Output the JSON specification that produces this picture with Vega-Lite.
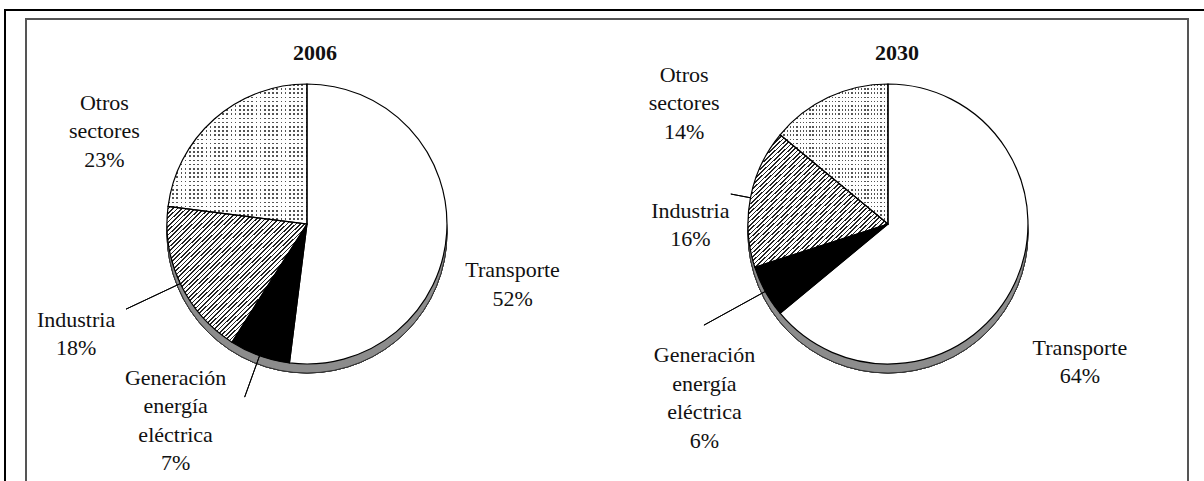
{
 "$schema": "https://vega.github.io/schema/vega-lite/v6.json",
 "width": 1162,
 "height": 465,
 "autosize": {"type": "none"},
 "padding": {"left": 26, "top": 19, "right": 16, "bottom": -3},
 "background": "white",
 "config": {"view": {"stroke": "#555", "strokeWidth": 2}, "text": {"font": "Liberation Serif", "color": "#111"}},
 "params": [
  {"name": "hatch", "value": {"gradient": "linear", "x1": 0, "y1": 0, "x2": 1, "y2": 1, "stops": [
{"offset":0,"color":"#fff"},{"offset":0.01,"color":"#fff"},{"offset":0.01,"color":"#222"},{"offset":0.016,"color":"#222"},
{"offset":0.016,"color":"#fff"},{"offset":0.026,"color":"#fff"},{"offset":0.026,"color":"#222"},{"offset":0.032,"color":"#222"},
{"offset":0.032,"color":"#fff"},{"offset":0.042,"color":"#fff"},{"offset":0.042,"color":"#222"},{"offset":0.048,"color":"#222"},
{"offset":0.048,"color":"#fff"},{"offset":0.058,"color":"#fff"},{"offset":0.058,"color":"#222"},{"offset":0.064,"color":"#222"},
{"offset":0.064,"color":"#fff"},{"offset":0.074,"color":"#fff"},{"offset":0.074,"color":"#222"},{"offset":0.08,"color":"#222"},
{"offset":0.08,"color":"#fff"},{"offset":0.09,"color":"#fff"},{"offset":0.09,"color":"#222"},{"offset":0.096,"color":"#222"},
{"offset":0.096,"color":"#fff"},{"offset":0.106,"color":"#fff"},{"offset":0.106,"color":"#222"},{"offset":0.112,"color":"#222"},
{"offset":0.112,"color":"#fff"},{"offset":0.122,"color":"#fff"},{"offset":0.122,"color":"#222"},{"offset":0.128,"color":"#222"},
{"offset":0.128,"color":"#fff"},{"offset":0.138,"color":"#fff"},{"offset":0.138,"color":"#222"},{"offset":0.144,"color":"#222"},
{"offset":0.144,"color":"#fff"},{"offset":0.154,"color":"#fff"},{"offset":0.154,"color":"#222"},{"offset":0.16,"color":"#222"},
{"offset":0.16,"color":"#fff"},{"offset":0.17,"color":"#fff"},{"offset":0.17,"color":"#222"},{"offset":0.176,"color":"#222"},
{"offset":0.176,"color":"#fff"},{"offset":0.186,"color":"#fff"},{"offset":0.186,"color":"#222"},{"offset":0.192,"color":"#222"},
{"offset":0.192,"color":"#fff"},{"offset":0.202,"color":"#fff"},{"offset":0.202,"color":"#222"},{"offset":0.208,"color":"#222"},
{"offset":0.208,"color":"#fff"},{"offset":0.218,"color":"#fff"},{"offset":0.218,"color":"#222"},{"offset":0.224,"color":"#222"},
{"offset":0.224,"color":"#fff"},{"offset":0.234,"color":"#fff"},{"offset":0.234,"color":"#222"},{"offset":0.24,"color":"#222"},
{"offset":0.24,"color":"#fff"},{"offset":0.25,"color":"#fff"},{"offset":0.25,"color":"#222"},{"offset":0.256,"color":"#222"},
{"offset":0.256,"color":"#fff"},{"offset":0.266,"color":"#fff"},{"offset":0.266,"color":"#222"},{"offset":0.272,"color":"#222"},
{"offset":0.272,"color":"#fff"},{"offset":0.282,"color":"#fff"},{"offset":0.282,"color":"#222"},{"offset":0.288,"color":"#222"},
{"offset":0.288,"color":"#fff"},{"offset":0.298,"color":"#fff"},{"offset":0.298,"color":"#222"},{"offset":0.304,"color":"#222"},
{"offset":0.304,"color":"#fff"},{"offset":0.314,"color":"#fff"},{"offset":0.314,"color":"#222"},{"offset":0.32,"color":"#222"},
{"offset":0.32,"color":"#fff"},{"offset":0.33,"color":"#fff"},{"offset":0.33,"color":"#222"},{"offset":0.336,"color":"#222"},
{"offset":0.336,"color":"#fff"},{"offset":0.346,"color":"#fff"},{"offset":0.346,"color":"#222"},{"offset":0.352,"color":"#222"},
{"offset":0.352,"color":"#fff"},{"offset":0.362,"color":"#fff"},{"offset":0.362,"color":"#222"},{"offset":0.368,"color":"#222"},
{"offset":0.368,"color":"#fff"},{"offset":0.378,"color":"#fff"},{"offset":0.378,"color":"#222"},{"offset":0.384,"color":"#222"},
{"offset":0.384,"color":"#fff"},{"offset":0.394,"color":"#fff"},{"offset":0.394,"color":"#222"},{"offset":0.4,"color":"#222"},
{"offset":0.4,"color":"#fff"},{"offset":0.41,"color":"#fff"},{"offset":0.41,"color":"#222"},{"offset":0.416,"color":"#222"},
{"offset":0.416,"color":"#fff"},{"offset":0.426,"color":"#fff"},{"offset":0.426,"color":"#222"},{"offset":0.432,"color":"#222"},
{"offset":0.432,"color":"#fff"},{"offset":0.442,"color":"#fff"},{"offset":0.442,"color":"#222"},{"offset":0.448,"color":"#222"},
{"offset":0.448,"color":"#fff"},{"offset":0.458,"color":"#fff"},{"offset":0.458,"color":"#222"},{"offset":0.464,"color":"#222"},
{"offset":0.464,"color":"#fff"},{"offset":0.474,"color":"#fff"},{"offset":0.474,"color":"#222"},{"offset":0.48,"color":"#222"},
{"offset":0.48,"color":"#fff"},{"offset":0.49,"color":"#fff"},{"offset":0.49,"color":"#222"},{"offset":0.496,"color":"#222"},
{"offset":0.496,"color":"#fff"},{"offset":0.506,"color":"#fff"},{"offset":0.506,"color":"#222"},{"offset":0.512,"color":"#222"},
{"offset":0.512,"color":"#fff"},{"offset":0.522,"color":"#fff"},{"offset":0.522,"color":"#222"},{"offset":0.528,"color":"#222"},
{"offset":0.528,"color":"#fff"},{"offset":0.538,"color":"#fff"},{"offset":0.538,"color":"#222"},{"offset":0.544,"color":"#222"},
{"offset":0.544,"color":"#fff"},{"offset":0.554,"color":"#fff"},{"offset":0.554,"color":"#222"},{"offset":0.56,"color":"#222"},
{"offset":0.56,"color":"#fff"},{"offset":0.57,"color":"#fff"},{"offset":0.57,"color":"#222"},{"offset":0.576,"color":"#222"},
{"offset":0.576,"color":"#fff"},{"offset":0.586,"color":"#fff"},{"offset":0.586,"color":"#222"},{"offset":0.592,"color":"#222"},
{"offset":0.592,"color":"#fff"},{"offset":0.602,"color":"#fff"},{"offset":0.602,"color":"#222"},{"offset":0.608,"color":"#222"},
{"offset":0.608,"color":"#fff"},{"offset":0.618,"color":"#fff"},{"offset":0.618,"color":"#222"},{"offset":0.624,"color":"#222"},
{"offset":0.624,"color":"#fff"},{"offset":0.634,"color":"#fff"},{"offset":0.634,"color":"#222"},{"offset":0.64,"color":"#222"},
{"offset":0.64,"color":"#fff"},{"offset":0.65,"color":"#fff"},{"offset":0.65,"color":"#222"},{"offset":0.656,"color":"#222"},
{"offset":0.656,"color":"#fff"},{"offset":0.666,"color":"#fff"},{"offset":0.666,"color":"#222"},{"offset":0.672,"color":"#222"},
{"offset":0.672,"color":"#fff"},{"offset":0.682,"color":"#fff"},{"offset":0.682,"color":"#222"},{"offset":0.688,"color":"#222"},
{"offset":0.688,"color":"#fff"},{"offset":0.698,"color":"#fff"},{"offset":0.698,"color":"#222"},{"offset":0.704,"color":"#222"},
{"offset":0.704,"color":"#fff"},{"offset":0.714,"color":"#fff"},{"offset":0.714,"color":"#222"},{"offset":0.72,"color":"#222"},
{"offset":0.72,"color":"#fff"},{"offset":0.73,"color":"#fff"},{"offset":0.73,"color":"#222"},{"offset":0.736,"color":"#222"},
{"offset":0.736,"color":"#fff"},{"offset":0.746,"color":"#fff"},{"offset":0.746,"color":"#222"},{"offset":0.752,"color":"#222"},
{"offset":0.752,"color":"#fff"},{"offset":0.762,"color":"#fff"},{"offset":0.762,"color":"#222"},{"offset":0.768,"color":"#222"},
{"offset":0.768,"color":"#fff"},{"offset":0.778,"color":"#fff"},{"offset":0.778,"color":"#222"},{"offset":0.784,"color":"#222"},
{"offset":0.784,"color":"#fff"},{"offset":0.794,"color":"#fff"},{"offset":0.794,"color":"#222"},{"offset":0.8,"color":"#222"},
{"offset":0.8,"color":"#fff"},{"offset":0.81,"color":"#fff"},{"offset":0.81,"color":"#222"},{"offset":0.816,"color":"#222"},
{"offset":0.816,"color":"#fff"},{"offset":0.826,"color":"#fff"},{"offset":0.826,"color":"#222"},{"offset":0.832,"color":"#222"},
{"offset":0.832,"color":"#fff"},{"offset":0.842,"color":"#fff"},{"offset":0.842,"color":"#222"},{"offset":0.848,"color":"#222"},
{"offset":0.848,"color":"#fff"},{"offset":0.858,"color":"#fff"},{"offset":0.858,"color":"#222"},{"offset":0.864,"color":"#222"},
{"offset":0.864,"color":"#fff"},{"offset":0.874,"color":"#fff"},{"offset":0.874,"color":"#222"},{"offset":0.88,"color":"#222"},
{"offset":0.88,"color":"#fff"},{"offset":0.89,"color":"#fff"},{"offset":0.89,"color":"#222"},{"offset":0.896,"color":"#222"},
{"offset":0.896,"color":"#fff"},{"offset":0.906,"color":"#fff"},{"offset":0.906,"color":"#222"},{"offset":0.912,"color":"#222"},
{"offset":0.912,"color":"#fff"},{"offset":0.922,"color":"#fff"},{"offset":0.922,"color":"#222"},{"offset":0.928,"color":"#222"},
{"offset":0.928,"color":"#fff"},{"offset":0.938,"color":"#fff"},{"offset":0.938,"color":"#222"},{"offset":0.944,"color":"#222"},
{"offset":0.944,"color":"#fff"},{"offset":0.954,"color":"#fff"},{"offset":0.954,"color":"#222"},{"offset":0.96,"color":"#222"},
{"offset":0.96,"color":"#fff"},{"offset":0.97,"color":"#fff"},{"offset":0.97,"color":"#222"},{"offset":0.976,"color":"#222"},
{"offset":0.976,"color":"#fff"},{"offset":0.986,"color":"#fff"},{"offset":0.986,"color":"#222"},{"offset":0.992,"color":"#222"},
{"offset":0.992,"color":"#fff"},{"offset":1,"color":"#fff"}
  ]}},
  {"name": "vstripe", "value": {"gradient": "linear", "x1": 0, "y1": 0, "x2": 1, "y2": 0, "stops": [
{"offset":0,"color":"#555"},{"offset":0.012,"color":"#555"},{"offset":0.012,"color":"#fff"},{"offset":0.03,"color":"#fff"},
{"offset":0.03,"color":"#555"},{"offset":0.042,"color":"#555"},{"offset":0.042,"color":"#fff"},{"offset":0.06,"color":"#fff"},
{"offset":0.06,"color":"#555"},{"offset":0.072,"color":"#555"},{"offset":0.072,"color":"#fff"},{"offset":0.09,"color":"#fff"},
{"offset":0.09,"color":"#555"},{"offset":0.102,"color":"#555"},{"offset":0.102,"color":"#fff"},{"offset":0.12,"color":"#fff"},
{"offset":0.12,"color":"#555"},{"offset":0.132,"color":"#555"},{"offset":0.132,"color":"#fff"},{"offset":0.15,"color":"#fff"},
{"offset":0.15,"color":"#555"},{"offset":0.162,"color":"#555"},{"offset":0.162,"color":"#fff"},{"offset":0.18,"color":"#fff"},
{"offset":0.18,"color":"#555"},{"offset":0.192,"color":"#555"},{"offset":0.192,"color":"#fff"},{"offset":0.21,"color":"#fff"},
{"offset":0.21,"color":"#555"},{"offset":0.222,"color":"#555"},{"offset":0.222,"color":"#fff"},{"offset":0.24,"color":"#fff"},
{"offset":0.24,"color":"#555"},{"offset":0.252,"color":"#555"},{"offset":0.252,"color":"#fff"},{"offset":0.27,"color":"#fff"},
{"offset":0.27,"color":"#555"},{"offset":0.282,"color":"#555"},{"offset":0.282,"color":"#fff"},{"offset":0.3,"color":"#fff"},
{"offset":0.3,"color":"#555"},{"offset":0.312,"color":"#555"},{"offset":0.312,"color":"#fff"},{"offset":0.33,"color":"#fff"},
{"offset":0.33,"color":"#555"},{"offset":0.342,"color":"#555"},{"offset":0.342,"color":"#fff"},{"offset":0.36,"color":"#fff"},
{"offset":0.36,"color":"#555"},{"offset":0.372,"color":"#555"},{"offset":0.372,"color":"#fff"},{"offset":0.39,"color":"#fff"},
{"offset":0.39,"color":"#555"},{"offset":0.402,"color":"#555"},{"offset":0.402,"color":"#fff"},{"offset":0.42,"color":"#fff"},
{"offset":0.42,"color":"#555"},{"offset":0.432,"color":"#555"},{"offset":0.432,"color":"#fff"},{"offset":0.45,"color":"#fff"},
{"offset":0.45,"color":"#555"},{"offset":0.462,"color":"#555"},{"offset":0.462,"color":"#fff"},{"offset":0.48,"color":"#fff"},
{"offset":0.48,"color":"#555"},{"offset":0.492,"color":"#555"},{"offset":0.492,"color":"#fff"},{"offset":0.51,"color":"#fff"},
{"offset":0.51,"color":"#555"},{"offset":0.522,"color":"#555"},{"offset":0.522,"color":"#fff"},{"offset":0.54,"color":"#fff"},
{"offset":0.54,"color":"#555"},{"offset":0.552,"color":"#555"},{"offset":0.552,"color":"#fff"},{"offset":0.57,"color":"#fff"},
{"offset":0.57,"color":"#555"},{"offset":0.582,"color":"#555"},{"offset":0.582,"color":"#fff"},{"offset":0.6,"color":"#fff"},
{"offset":0.6,"color":"#555"},{"offset":0.612,"color":"#555"},{"offset":0.612,"color":"#fff"},{"offset":0.63,"color":"#fff"},
{"offset":0.63,"color":"#555"},{"offset":0.642,"color":"#555"},{"offset":0.642,"color":"#fff"},{"offset":0.66,"color":"#fff"},
{"offset":0.66,"color":"#555"},{"offset":0.672,"color":"#555"},{"offset":0.672,"color":"#fff"},{"offset":0.69,"color":"#fff"},
{"offset":0.69,"color":"#555"},{"offset":0.702,"color":"#555"},{"offset":0.702,"color":"#fff"},{"offset":0.72,"color":"#fff"},
{"offset":0.72,"color":"#555"},{"offset":0.732,"color":"#555"},{"offset":0.732,"color":"#fff"},{"offset":0.75,"color":"#fff"},
{"offset":0.75,"color":"#555"},{"offset":0.762,"color":"#555"},{"offset":0.762,"color":"#fff"},{"offset":0.78,"color":"#fff"},
{"offset":0.78,"color":"#555"},{"offset":0.792,"color":"#555"},{"offset":0.792,"color":"#fff"},{"offset":0.81,"color":"#fff"},
{"offset":0.81,"color":"#555"},{"offset":0.822,"color":"#555"},{"offset":0.822,"color":"#fff"},{"offset":0.84,"color":"#fff"},
{"offset":0.84,"color":"#555"},{"offset":0.852,"color":"#555"},{"offset":0.852,"color":"#fff"},{"offset":0.87,"color":"#fff"},
{"offset":0.87,"color":"#555"},{"offset":0.882,"color":"#555"},{"offset":0.882,"color":"#fff"},{"offset":0.9,"color":"#fff"},
{"offset":0.9,"color":"#555"},{"offset":0.912,"color":"#555"},{"offset":0.912,"color":"#fff"},{"offset":0.93,"color":"#fff"},
{"offset":0.93,"color":"#555"},{"offset":0.942,"color":"#555"},{"offset":0.942,"color":"#fff"},{"offset":0.96,"color":"#fff"},
{"offset":0.96,"color":"#555"},{"offset":0.972,"color":"#555"},{"offset":0.972,"color":"#fff"},{"offset":0.99,"color":"#fff"},
{"offset":0.99,"color":"#555"},{"offset":1,"color":"#555"}
  ]}},
  {"name": "hstripe", "value": {"gradient": "linear", "x1": 0, "y1": 0, "x2": 0, "y2": 1, "stops": [
{"offset":0,"color":"transparent"},{"offset":0.012,"color":"transparent"},{"offset":0.012,"color":"#fff"},{"offset":0.03,"color":"#fff"},
{"offset":0.03,"color":"transparent"},{"offset":0.042,"color":"transparent"},{"offset":0.042,"color":"#fff"},{"offset":0.06,"color":"#fff"},
{"offset":0.06,"color":"transparent"},{"offset":0.072,"color":"transparent"},{"offset":0.072,"color":"#fff"},{"offset":0.09,"color":"#fff"},
{"offset":0.09,"color":"transparent"},{"offset":0.102,"color":"transparent"},{"offset":0.102,"color":"#fff"},{"offset":0.12,"color":"#fff"},
{"offset":0.12,"color":"transparent"},{"offset":0.132,"color":"transparent"},{"offset":0.132,"color":"#fff"},{"offset":0.15,"color":"#fff"},
{"offset":0.15,"color":"transparent"},{"offset":0.162,"color":"transparent"},{"offset":0.162,"color":"#fff"},{"offset":0.18,"color":"#fff"},
{"offset":0.18,"color":"transparent"},{"offset":0.192,"color":"transparent"},{"offset":0.192,"color":"#fff"},{"offset":0.21,"color":"#fff"},
{"offset":0.21,"color":"transparent"},{"offset":0.222,"color":"transparent"},{"offset":0.222,"color":"#fff"},{"offset":0.24,"color":"#fff"},
{"offset":0.24,"color":"transparent"},{"offset":0.252,"color":"transparent"},{"offset":0.252,"color":"#fff"},{"offset":0.27,"color":"#fff"},
{"offset":0.27,"color":"transparent"},{"offset":0.282,"color":"transparent"},{"offset":0.282,"color":"#fff"},{"offset":0.3,"color":"#fff"},
{"offset":0.3,"color":"transparent"},{"offset":0.312,"color":"transparent"},{"offset":0.312,"color":"#fff"},{"offset":0.33,"color":"#fff"},
{"offset":0.33,"color":"transparent"},{"offset":0.342,"color":"transparent"},{"offset":0.342,"color":"#fff"},{"offset":0.36,"color":"#fff"},
{"offset":0.36,"color":"transparent"},{"offset":0.372,"color":"transparent"},{"offset":0.372,"color":"#fff"},{"offset":0.39,"color":"#fff"},
{"offset":0.39,"color":"transparent"},{"offset":0.402,"color":"transparent"},{"offset":0.402,"color":"#fff"},{"offset":0.42,"color":"#fff"},
{"offset":0.42,"color":"transparent"},{"offset":0.432,"color":"transparent"},{"offset":0.432,"color":"#fff"},{"offset":0.45,"color":"#fff"},
{"offset":0.45,"color":"transparent"},{"offset":0.462,"color":"transparent"},{"offset":0.462,"color":"#fff"},{"offset":0.48,"color":"#fff"},
{"offset":0.48,"color":"transparent"},{"offset":0.492,"color":"transparent"},{"offset":0.492,"color":"#fff"},{"offset":0.51,"color":"#fff"},
{"offset":0.51,"color":"transparent"},{"offset":0.522,"color":"transparent"},{"offset":0.522,"color":"#fff"},{"offset":0.54,"color":"#fff"},
{"offset":0.54,"color":"transparent"},{"offset":0.552,"color":"transparent"},{"offset":0.552,"color":"#fff"},{"offset":0.57,"color":"#fff"},
{"offset":0.57,"color":"transparent"},{"offset":0.582,"color":"transparent"},{"offset":0.582,"color":"#fff"},{"offset":0.6,"color":"#fff"},
{"offset":0.6,"color":"transparent"},{"offset":0.612,"color":"transparent"},{"offset":0.612,"color":"#fff"},{"offset":0.63,"color":"#fff"},
{"offset":0.63,"color":"transparent"},{"offset":0.642,"color":"transparent"},{"offset":0.642,"color":"#fff"},{"offset":0.66,"color":"#fff"},
{"offset":0.66,"color":"transparent"},{"offset":0.672,"color":"transparent"},{"offset":0.672,"color":"#fff"},{"offset":0.69,"color":"#fff"},
{"offset":0.69,"color":"transparent"},{"offset":0.702,"color":"transparent"},{"offset":0.702,"color":"#fff"},{"offset":0.72,"color":"#fff"},
{"offset":0.72,"color":"transparent"},{"offset":0.732,"color":"transparent"},{"offset":0.732,"color":"#fff"},{"offset":0.75,"color":"#fff"},
{"offset":0.75,"color":"transparent"},{"offset":0.762,"color":"transparent"},{"offset":0.762,"color":"#fff"},{"offset":0.78,"color":"#fff"},
{"offset":0.78,"color":"transparent"},{"offset":0.792,"color":"transparent"},{"offset":0.792,"color":"#fff"},{"offset":0.81,"color":"#fff"},
{"offset":0.81,"color":"transparent"},{"offset":0.822,"color":"transparent"},{"offset":0.822,"color":"#fff"},{"offset":0.84,"color":"#fff"},
{"offset":0.84,"color":"transparent"},{"offset":0.852,"color":"transparent"},{"offset":0.852,"color":"#fff"},{"offset":0.87,"color":"#fff"},
{"offset":0.87,"color":"transparent"},{"offset":0.882,"color":"transparent"},{"offset":0.882,"color":"#fff"},{"offset":0.9,"color":"#fff"},
{"offset":0.9,"color":"transparent"},{"offset":0.912,"color":"transparent"},{"offset":0.912,"color":"#fff"},{"offset":0.93,"color":"#fff"},
{"offset":0.93,"color":"transparent"},{"offset":0.942,"color":"transparent"},{"offset":0.942,"color":"#fff"},{"offset":0.96,"color":"#fff"},
{"offset":0.96,"color":"transparent"},{"offset":0.972,"color":"transparent"},{"offset":0.972,"color":"#fff"},{"offset":0.99,"color":"#fff"},
{"offset":0.99,"color":"transparent"},{"offset":1,"color":"transparent"}
  ]}}
 ],
 "data": {"values": [
  {"year": "2006", "sector": "Transporte", "pct": 52, "label": "Transporte 52%"},
  {"year": "2006", "sector": "Generación energía eléctrica", "pct": 7, "label": "Generación energía eléctrica 7%"},
  {"year": "2006", "sector": "Industria", "pct": 18, "label": "Industria 18%"},
  {"year": "2006", "sector": "Otros sectores", "pct": 23, "label": "Otros sectores 23%"},
  {"year": "2030", "sector": "Transporte", "pct": 64, "label": "Transporte 64%"},
  {"year": "2030", "sector": "Generación energía eléctrica", "pct": 6, "label": "Generación energía eléctrica 6%"},
  {"year": "2030", "sector": "Industria", "pct": 16, "label": "Industria 16%"},
  {"year": "2030", "sector": "Otros sectores", "pct": 14, "label": "Otros sectores 14%"}
 ]},
 "transform": [{"window": [{"op": "row_number", "as": "orden"}]}],
 "layer": [
  {"data": {"values": [{}]}, "mark": {"type": "rect", "fill": null, "stroke": "#000", "strokeWidth": 2, "xOffset": -1183, "yOffset": -9, "strokeDash": [21, 495, 474]}, "encoding": {}},
  {"data": {"values": [{}]}, "mark": {"type": "rect", "fill": null, "stroke": "#000", "strokeWidth": 2, "xOffset": 40, "yOffset": -9, "strokeDash": [1202, 5000]}, "encoding": {}},
  {
   "transform": [{"filter": "datum.year == '2006'"}],
   "layer": [
    {"mark": {"type": "arc", "radius": 140, "yOffset": -18.5, "fill": "#8c8c8c", "stroke": "#333", "strokeWidth": 1}, "encoding": {"x": {"field": "year", "type": "ordinal", "scale": {"type": "point", "padding": 0.5, "align": 0.4836}, "axis": null}}},
    {"mark": {"type": "arc", "radius": 200, "radius2": 140, "padAngle": 3.2, "yOffset": -27.5, "fill": null, "stroke": "#000", "strokeWidth": 1, "strokeOpacity": {"expr": "datum.sector == 'Industria' ? 1 : 0"}}, "encoding": {"x": {"field": "year", "type": "ordinal", "axis": null}, "theta": {"field": "pct", "type": "quantitative", "stack": true}, "order": {"field": "orden", "type": "quantitative"}}},
    {"mark": {"type": "arc", "radius": 184, "radius2": 140, "padAngle": 3.2, "yOffset": -27.5, "fill": null, "stroke": "#000", "strokeWidth": 1, "strokeOpacity": {"expr": "datum.sector == 'Generación energía eléctrica' ? 1 : 0"}}, "encoding": {"x": {"field": "year", "type": "ordinal", "axis": null}, "theta": {"field": "pct", "type": "quantitative", "stack": true}, "order": {"field": "orden", "type": "quantitative"}}},
    {"mark": {"type": "arc", "radius": 140, "yOffset": -27.5, "strokeWidth": 0, "fill": {"expr": "datum.sector == 'Industria' ? hatch : datum.sector == 'Otros sectores' ? vstripe : datum.sector == 'Transporte' ? '#ffffff' : '#000000'"}}, "encoding": {"x": {"field": "year", "type": "ordinal", "axis": null}, "theta": {"field": "pct", "type": "quantitative", "stack": true}, "order": {"field": "orden", "type": "quantitative"}}},
    {"mark": {"type": "arc", "radius": 140, "yOffset": -27.5, "strokeWidth": 0, "fill": {"expr": "datum.sector == 'Otros sectores' ? hstripe : 'transparent'"}}, "encoding": {"x": {"field": "year", "type": "ordinal", "axis": null}, "theta": {"field": "pct", "type": "quantitative", "stack": true}, "order": {"field": "orden", "type": "quantitative"}}},
    {"mark": {"type": "arc", "radius": 140, "yOffset": -27.5, "fill": null, "stroke": "#000", "strokeWidth": 1.2}, "encoding": {"x": {"field": "year", "type": "ordinal", "axis": null}, "theta": {"field": "pct", "type": "quantitative", "stack": true}, "order": {"field": "orden", "type": "quantitative"}}},
    {"mark": {"type": "text", "font": "Liberation Serif", "radius": 190, "dx": 16, "dy": 6.6, "fontSize": 22, "lineHeight": 28.5, "lineBreak": " ", "align": "center", "baseline": "middle", "opacity": {"expr": "datum.sector == 'Transporte' ? 1 : 0"}}, "encoding": {"x": {"field": "year", "type": "ordinal", "axis": null}, "theta": {"field": "pct", "type": "quantitative", "stack": true}, "order": {"field": "orden", "type": "quantitative"}, "text": {"field": "label"}}},
    {"mark": {"type": "text", "font": "Liberation Serif", "radius": 190, "dx": -67, "dy": -52.3, "fontSize": 22, "lineHeight": 28.5, "lineBreak": " ", "align": "center", "baseline": "middle", "opacity": {"expr": "datum.sector == 'Generación energía eléctrica' ? 1 : 0"}}, "encoding": {"x": {"field": "year", "type": "ordinal", "axis": null}, "theta": {"field": "pct", "type": "quantitative", "stack": true}, "order": {"field": "orden", "type": "quantitative"}, "text": {"field": "label"}}},
    {"mark": {"type": "text", "font": "Liberation Serif", "radius": 190, "dx": -59, "dy": -12.4, "fontSize": 22, "lineHeight": 28.5, "lineBreak": " ", "align": "center", "baseline": "middle", "opacity": {"expr": "datum.sector == 'Industria' ? 1 : 0"}}, "encoding": {"x": {"field": "year", "type": "ordinal", "axis": null}, "theta": {"field": "pct", "type": "quantitative", "stack": true}, "order": {"field": "orden", "type": "quantitative"}, "text": {"field": "label"}}},
    {"mark": {"type": "text", "font": "Liberation Serif", "radius": 190, "dx": -77, "dy": -6, "fontSize": 22, "lineHeight": 28.5, "lineBreak": " ", "align": "center", "baseline": "middle", "opacity": {"expr": "datum.sector == 'Otros sectores' ? 1 : 0"}}, "encoding": {"x": {"field": "year", "type": "ordinal", "axis": null}, "theta": {"field": "pct", "type": "quantitative", "stack": true}, "order": {"field": "orden", "type": "quantitative"}, "text": {"field": "label"}}},
    {"mark": {"type": "text", "font": "Liberation Serif", "dx": 8, "dy": -199, "fontSize": 22, "fontWeight": "bold", "align": "center", "baseline": "middle", "opacity": {"expr": "datum.sector == 'Transporte' ? 1 : 0"}}, "encoding": {"x": {"field": "year", "type": "ordinal", "axis": null}, "text": {"field": "year"}}}
   ]
  },
  {
   "transform": [{"filter": "datum.year == '2030'"}],
   "layer": [
    {"mark": {"type": "arc", "radius": 140, "yOffset": -18.5, "fill": "#8c8c8c", "stroke": "#333", "strokeWidth": 1}, "encoding": {"x": {"field": "year", "type": "ordinal", "axis": null}}},
    {"mark": {"type": "arc", "radius": 160, "radius2": 140, "padAngle": 3.2, "yOffset": -27.5, "fill": null, "stroke": "#000", "strokeWidth": 1, "strokeOpacity": {"expr": "datum.sector == 'Industria' ? 1 : 0"}}, "encoding": {"x": {"field": "year", "type": "ordinal", "axis": null}, "theta": {"field": "pct", "type": "quantitative", "stack": true}, "order": {"field": "orden", "type": "quantitative"}}},
    {"mark": {"type": "arc", "radius": 210, "radius2": 140, "padAngle": 3.2, "yOffset": -27.5, "fill": null, "stroke": "#000", "strokeWidth": 1, "strokeOpacity": {"expr": "datum.sector == 'Generación energía eléctrica' ? 1 : 0"}}, "encoding": {"x": {"field": "year", "type": "ordinal", "axis": null}, "theta": {"field": "pct", "type": "quantitative", "stack": true}, "order": {"field": "orden", "type": "quantitative"}}},
    {"mark": {"type": "arc", "radius": 140, "yOffset": -27.5, "strokeWidth": 0, "fill": {"expr": "datum.sector == 'Industria' ? hatch : datum.sector == 'Otros sectores' ? vstripe : datum.sector == 'Transporte' ? '#ffffff' : '#000000'"}}, "encoding": {"x": {"field": "year", "type": "ordinal", "axis": null}, "theta": {"field": "pct", "type": "quantitative", "stack": true}, "order": {"field": "orden", "type": "quantitative"}}},
    {"mark": {"type": "arc", "radius": 140, "yOffset": -27.5, "strokeWidth": 0, "fill": {"expr": "datum.sector == 'Otros sectores' ? hstripe : 'transparent'"}}, "encoding": {"x": {"field": "year", "type": "ordinal", "axis": null}, "theta": {"field": "pct", "type": "quantitative", "stack": true}, "order": {"field": "orden", "type": "quantitative"}}},
    {"mark": {"type": "arc", "radius": 140, "yOffset": -27.5, "fill": null, "stroke": "#000", "strokeWidth": 1.2}, "encoding": {"x": {"field": "year", "type": "ordinal", "axis": null}, "theta": {"field": "pct", "type": "quantitative", "stack": true}, "order": {"field": "orden", "type": "quantitative"}}},
    {"mark": {"type": "text", "font": "Liberation Serif", "radius": 190, "dx": 20, "dy": 15.6, "fontSize": 22, "lineHeight": 28.5, "lineBreak": " ", "align": "center", "baseline": "middle", "opacity": {"expr": "datum.sector == 'Transporte' ? 1 : 0"}}, "encoding": {"x": {"field": "year", "type": "ordinal", "axis": null}, "theta": {"field": "pct", "type": "quantitative", "stack": true}, "order": {"field": "orden", "type": "quantitative"}, "text": {"field": "label"}}},
    {"mark": {"type": "text", "font": "Liberation Serif", "radius": 190, "dx": -17, "dy": 12, "fontSize": 22, "lineHeight": 28.5, "lineBreak": " ", "align": "center", "baseline": "middle", "opacity": {"expr": "datum.sector == 'Generación energía eléctrica' ? 1 : 0"}}, "encoding": {"x": {"field": "year", "type": "ordinal", "axis": null}, "theta": {"field": "pct", "type": "quantitative", "stack": true}, "order": {"field": "orden", "type": "quantitative"}, "text": {"field": "label"}}},
    {"mark": {"type": "text", "font": "Liberation Serif", "radius": 190, "dx": -11, "dy": -4.9, "fontSize": 22, "lineHeight": 28.5, "lineBreak": " ", "align": "center", "baseline": "middle", "opacity": {"expr": "datum.sector == 'Industria' ? 1 : 0"}}, "encoding": {"x": {"field": "year", "type": "ordinal", "axis": null}, "theta": {"field": "pct", "type": "quantitative", "stack": true}, "order": {"field": "orden", "type": "quantitative"}, "text": {"field": "label"}}},
    {"mark": {"type": "text", "font": "Liberation Serif", "radius": 190, "dx": -123, "dy": -4.6, "fontSize": 22, "lineHeight": 28.5, "lineBreak": " ", "align": "center", "baseline": "middle", "opacity": {"expr": "datum.sector == 'Otros sectores' ? 1 : 0"}}, "encoding": {"x": {"field": "year", "type": "ordinal", "axis": null}, "theta": {"field": "pct", "type": "quantitative", "stack": true}, "order": {"field": "orden", "type": "quantitative"}, "text": {"field": "label"}}},
    {"mark": {"type": "text", "font": "Liberation Serif", "dx": 9, "dy": -199, "fontSize": 22, "fontWeight": "bold", "align": "center", "baseline": "middle", "opacity": {"expr": "datum.sector == 'Transporte' ? 1 : 0"}}, "encoding": {"x": {"field": "year", "type": "ordinal", "axis": null}, "text": {"field": "year"}}}
   ]
  }
 ]
}
